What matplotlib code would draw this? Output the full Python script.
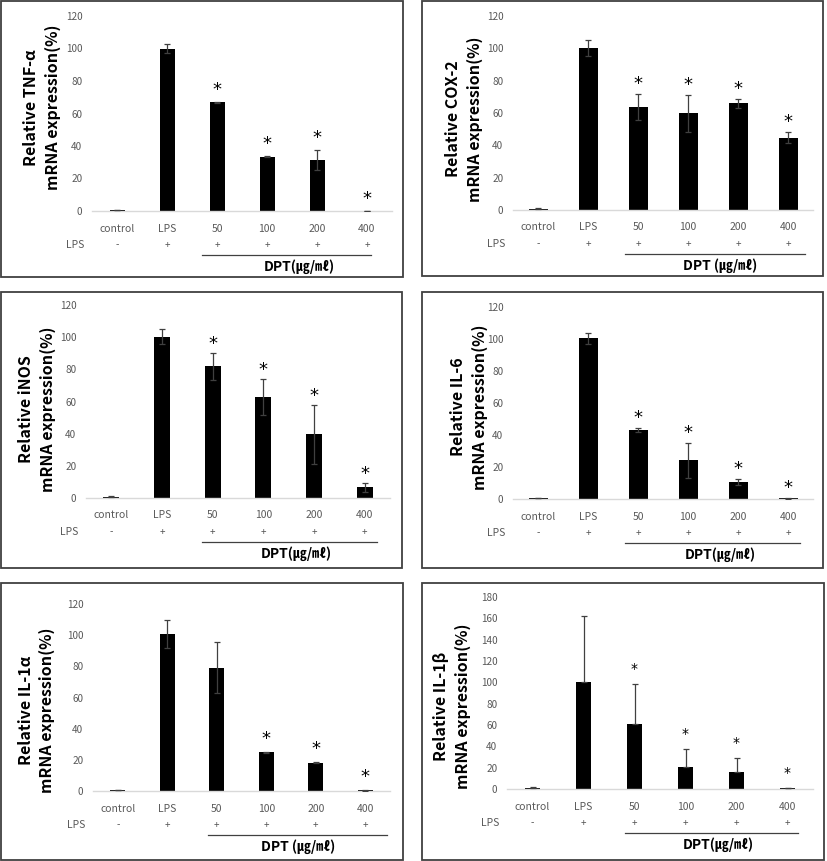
import numpy as np
import matplotlib.pyplot as plt
import matplotlib.transforms as mtransforms
from matplotlib.patches import Rectangle

plt.rcParams['font.family'] = ['Noto Sans CJK KR', 'DejaVu Sans']

W, H, DPI = 827, 861, 100
TICK_C = '#595959'
EDGE_C = '#404040'

groups = ['control', 'LPS', '50', '100', '200', '400']
lps_signs = ['-', '+', '+', '+', '+', '+']

tnf_mean = [0.6, 100, 66.8, 33.5, 31.5, 0.0]
tnf_err = [0.2, 2.8, 0.3, 0.3, 6.0, 0.0]
tnf_star = [0, 0, 1, 1, 1, 1]

cox_mean = [0.8, 100.2, 63.8, 59.7, 65.9, 44.8]
cox_err = [0.3, 5.0, 8.0, 11.5, 3.0, 3.5]
cox_star = [0, 0, 1, 1, 1, 1]

inos_mean = [0.8, 100.3, 81.9, 62.7, 39.5, 6.8]
inos_err = [0.3, 4.8, 8.4, 11.0, 18.4, 2.8]
inos_star = [0, 0, 1, 1, 1, 1]

il6_mean = [0.6, 100.5, 43.2, 24.1, 10.8, 0.4]
il6_err = [0.2, 3.5, 1.2, 11.0, 1.8, 0.1]
il6_star = [0, 0, 1, 1, 1, 1]

il1a_mean = [0.6, 100.5, 79.0, 24.9, 18.0, 0.4]
il1a_err = [0.2, 9.0, 16.3, 0.3, 0.3, 0.1]
il1a_star = [0, 0, 0, 1, 1, 1]

il1b_mean = [1.3, 100, 60.7, 21.0, 15.7, 0.6]
il1b_err = [0.3, 62.0, 37.6, 16.3, 13.1, 0.0]
il1b_star = [0, 0, 1, 1, 1, 1]

# per panel: label, data, ymax/step, border px (x0,y0,x1,y1), axes px (left,right,top,base),
# bar width, ylabel centre (axes frac), DPT text, underline extent, star offset px, star size, upper-only err
panels = [
    dict(label='Relative TNF-\u03b1\nmRNA expression(%)', mean=tnf_mean, err=tnf_err, star=tnf_star,
         ymax=120, step=20, border=(1, 1, 403, 277), box=(92, 392, 16, 211), bw=0.3,
         ylab=(-0.167, 0.53), dpt='DPT(\u338d/\u3396)', line=(1.7, 5.08), soff=12, ssize=13, upper=False),
    dict(label='Relative COX-2\nmRNA expression(%)', mean=cox_mean, err=cox_err, star=cox_star,
         ymax=120, step=20, border=(422, 1, 823, 276), box=(513, 813, 16, 210), bw=0.38,
         ylab=(-0.163, 0.47), dpt='DPT (\u338d/\u3396)', line=(1.74, 5.34), soff=10, ssize=13, upper=False),
    dict(label='Relative iNOS\nmRNA expression(%)', mean=inos_mean, err=inos_err, star=inos_star,
         ymax=120, step=20, border=(1, 292, 402, 568), box=(86, 390, 305, 498), bw=0.31,
         ylab=(-0.161, 0.46), dpt='DPT(\u338d/\u3396)', line=(1.79, 5.24), soff=9, ssize=13, upper=False),
    dict(label='Relative IL-6\nmRNA expression(%)', mean=il6_mean, err=il6_err, star=il6_star,
         ymax=120, step=20, border=(422, 292, 823, 568), box=(513, 813, 307, 499), bw=0.38,
         ylab=(-0.147, 0.48), dpt='DPT(\u338d/\u3396)', line=(1.74, 5.24), soff=10, ssize=13, upper=False),
    dict(label='Relative IL-1\u03b1\nmRNA expression(%)', mean=il1a_mean, err=il1a_err, star=il1a_star,
         ymax=120, step=20, border=(1, 583, 403, 860), box=(93, 390, 604, 791), bw=0.3,
         ylab=(-0.19, 0.43), dpt='DPT (\u338d/\u3396)', line=(1.82, 5.44), soff=13, ssize=13, upper=False),
    dict(label='Relative IL-1\u03b2\nmRNA expression(%)', mean=il1b_mean, err=il1b_err, star=il1b_star,
         ymax=180, step=20, border=(422, 583, 824, 860), box=(507, 813, 597, 789), bw=0.31,
         ylab=(-0.18, 0.43), dpt='DPT(\u338d/\u3396)', line=(1.81, 5.2), soff=15, ssize=10, upper=True),
]

fig = plt.figure(figsize=(W / DPI, H / DPI), dpi=DPI)


def below(ax, dy):
    # x in data, y at baseline shifted down by dy pixels
    return ax.get_xaxis_transform() + mtransforms.ScaledTranslation(0, -dy / DPI, fig.dpi_scale_trans)


for p in panels:
    bx0, by0, bx1, by1 = p['border']
    fig.patches.append(Rectangle((bx0 / W, 1 - by1 / H), (bx1 - bx0) / W, (by1 - by0) / H,
                                 transform=fig.transFigure, fill=False, edgecolor=EDGE_C, lw=1.3))

    l, r, t, b = p['box']
    ax = fig.add_axes([l / W, 1 - b / H, (r - l) / W, (b - t) / H])
    x = np.arange(len(groups))
    mean = np.array(p['mean'])
    err = np.array(p['err'])

    ax.bar(x, mean, width=p['bw'], color='black', zorder=2)
    yerr = [np.zeros_like(err), err] if p['upper'] else err
    ax.errorbar(x, mean, yerr=yerr, fmt='none', ecolor=EDGE_C, elinewidth=0.9,
                capsize=2.5, capthick=0.9, zorder=3)

    ax.set_xlim(-0.5, len(groups) - 0.5)
    ax.set_ylim(0, p['ymax'])
    ax.set_yticks(np.arange(0, p['ymax'] + 1, p['step']))
    ax.set_xticks([])
    ax.tick_params(axis='y', length=0, pad=7, labelsize=7.2, labelcolor=TICK_C)
    for s in ['top', 'right', 'left']:
        ax.spines[s].set_visible(False)
    ax.spines['bottom'].set_color('#d9d9d9')
    ax.spines['bottom'].set_linewidth(1.0)
    ax.grid(False)

    ax.text(p['ylab'][0], p['ylab'][1], p['label'], transform=ax.transAxes, rotation=90,
            ha='center', va='center', rotation_mode='anchor', fontsize=11.5,
            fontweight='bold', linespacing=1.4, multialignment='center')

    # stars above error bars
    for xi, m, e, s in zip(x, mean, err, p['star']):
        if s:
            tr = ax.transData + mtransforms.ScaledTranslation(0, p['soff'] / DPI, fig.dpi_scale_trans)
            ax.text(xi, m + e, '*', transform=tr, ha='center', va='center',
                    fontsize=p['ssize'], color='black', family='DejaVu Sans')

    # category labels and LPS row
    for xi, g, sg in zip(x, groups, lps_signs):
        ax.text(xi, 0, g, transform=below(ax, 17.5), ha='center', va='center',
                fontsize=7.5, color=TICK_C, clip_on=False)
        ax.text(xi, 0, sg, transform=below(ax, 34), ha='center', va='center',
                fontsize=7, color=TICK_C, clip_on=False)
    ax.text(-0.83, 0, 'LPS', transform=below(ax, 34), ha='center', va='center',
            fontsize=7.5, color=TICK_C, clip_on=False)

    ax.plot(list(p['line']), [0, 0], transform=below(ax, 44), color=EDGE_C, lw=0.9, clip_on=False)
    ax.text(3.65, 0, p['dpt'], transform=below(ax, 56), ha='center', va='center',
            fontsize=10, fontweight='bold', clip_on=False)

fig.savefig('out.png', dpi=DPI)
